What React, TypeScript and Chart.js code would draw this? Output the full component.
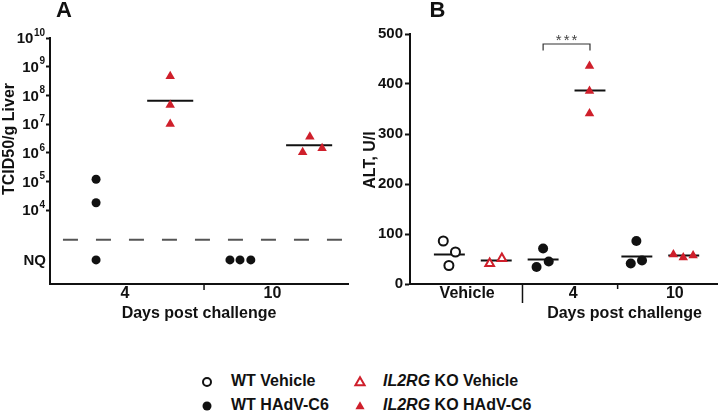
import React, { useEffect, useRef } from 'react';
import { Chart, registerables } from 'chart.js';

Chart.register(...registerables);

const FONT = "'Liberation Sans', Arial, Helvetica, sans-serif";
const RED = '#cf1f2b';
const INK = '#111111';

// ---------- Panel A: log10 TCID50 / g liver ----------
const A_DAY_LABELS = ['4', '', '10'];
const A_DAY_TICKS = [1.4, 2.5, 3.45];
const A_POWERS = [4, 5, 6, 7, 8, 9, 10];
const A_NQ = 2.27; // "not quantifiable" level
const A_LIMIT = 2.97; // dashed quantification limit
const A_WT_X = [1, 1, 1, 2.86, 3.0, 3.15];
const A_WT_Y = [5.08, 4.26, A_NQ, A_NQ, A_NQ, A_NQ];
const A_KO_X = [2.03, 2.03, 2.03, 3.87, 3.97, 4.14];
const A_KO_Y = [8.67, 7.67, 7.0, 6.02, 6.56, 6.16];
const A_MEAN_X = [2.03, 3.96];
const A_MEAN_Y = [7.81, 6.26];

// ---------- Panel B: ALT, U/l ----------
const B_GROUP_LABELS = ['Vehicle', '4', '10'];
const B_GROUP_TICKS = [1.38, 3.64, 5.81];
const B_DIVIDERS = [2.56, 4.59];
const B_WT_VEH_X = [0.87, 1.13, 0.99];
const B_WT_VEH_Y = [86, 64, 37];
const B_KO_VEH_X = [1.86, 2.12];
const B_KO_VEH_Y = [41, 51];
const B_WT_X = [3.0, 2.86, 3.12, 4.99, 4.87, 5.11];
const B_WT_Y = [71, 34, 45, 86, 41, 47];
const B_KO_X = [3.99, 3.99, 3.99, 5.78, 5.99, 6.2];
const B_KO_Y = [436, 386, 341, 59, 53, 57];
const B_MEAN_X = [1, 2, 3, 4, 5, 6];
const B_MEAN_Y = [59, 47, 49, 387, 55, 57];
const B_SIG_FROM = 3;
const B_SIG_TO = 4;
const B_SIG_TOP = 480;
const B_SIG_FOOT = 467;
const B_SIG_LABEL = '***';

const pts = (xs: number[], ys: number[]) => xs.map((x, i) => ({ x, y: ys[i] }));

const meanLines = (xs: number[], ys: number[], half: number) =>
  xs.map((c, i) => ({
    type: 'line' as const,
    data: [
      { x: c - half, y: ys[i] },
      { x: c + half, y: ys[i] },
    ],
    borderColor: INK,
    borderWidth: 2,
    pointRadius: 0,
    showLine: true,
    order: 2,
  }));

const bold = (size: number) => `bold ${size}px ${FONT}`;

function drawText(ctx: CanvasRenderingContext2D, text: string, x: number, y: number, font: string, rotate = false) {
  ctx.save();
  ctx.font = font;
  ctx.fillStyle = INK;
  ctx.textAlign = 'center';
  ctx.textBaseline = 'middle';
  ctx.translate(x, y);
  if (rotate) ctx.rotate(-Math.PI / 2);
  ctx.fillText(text, 0, 0);
  ctx.restore();
}

const panelAPlugin = {
  id: 'panelA',
  beforeDatasetsDraw(chart: any) {
    const { ctx, scales } = chart;
    const { x, y } = scales;
    ctx.save();
    ctx.strokeStyle = '#555555';
    ctx.lineWidth = 2;
    ctx.setLineDash([15, 18]);
    const py = y.getPixelForValue(A_LIMIT);
    ctx.beginPath();
    ctx.moveTo(x.getPixelForValue(0.54), py);
    ctx.lineTo(x.right, py);
    ctx.stroke();
    ctx.restore();
  },
  afterDraw(chart: any) {
    const { ctx, scales } = chart;
    const { x, y } = scales;
    // divider tick on the x axis
    ctx.save();
    ctx.strokeStyle = INK;
    ctx.lineWidth = 1.5;
    const dx = x.getPixelForValue(A_DAY_TICKS[1]);
    ctx.beginPath();
    ctx.moveTo(dx, y.bottom);
    ctx.lineTo(dx, y.bottom + 6);
    ctx.stroke();
    ctx.restore();

    // y tick labels with superscripts
    const right = y.right - 5;
    ctx.save();
    ctx.fillStyle = INK;
    ctx.textBaseline = 'middle';
    A_POWERS.forEach((p) => {
      const py = y.getPixelForValue(p);
      ctx.font = bold(10);
      const sup = String(p);
      const supW = ctx.measureText(sup).width;
      ctx.textAlign = 'left';
      ctx.fillText(sup, right - supW, py - 5);
      ctx.font = bold(15);
      ctx.textAlign = 'right';
      ctx.fillText('10', right - supW - 0.5, py + 1);
    });
    ctx.font = bold(15);
    ctx.textAlign = 'right';
    ctx.fillText('NQ', y.right - 4, y.getPixelForValue(A_NQ) + 1);
    ctx.restore();

    drawText(ctx, 'TCID50/g Liver', 10, 139, bold(16), true);
    drawText(ctx, 'A', 64, 11, bold(22));
    drawText(ctx, 'Days post challenge', (x.left + x.right) / 2, 314, bold(16));
  },
};

const panelBPlugin = {
  id: 'panelB',
  afterDraw(chart: any) {
    const { ctx, scales } = chart;
    const { x, y } = scales;
    ctx.save();
    ctx.strokeStyle = INK;
    ctx.lineWidth = 1.5;
    const lens = [19, 5];
    B_DIVIDERS.forEach((d, i) => {
      const dx = x.getPixelForValue(d);
      ctx.beginPath();
      ctx.moveTo(dx, y.bottom);
      ctx.lineTo(dx, y.bottom + lens[i]);
      ctx.stroke();
    });
    // significance bracket
    const x1 = x.getPixelForValue(B_SIG_FROM);
    const x2 = x.getPixelForValue(B_SIG_TO);
    const yt = y.getPixelForValue(B_SIG_TOP);
    const yf = y.getPixelForValue(B_SIG_FOOT);
    ctx.strokeStyle = '#333333';
    ctx.lineWidth = 1.2;
    ctx.beginPath();
    ctx.moveTo(x1, yf);
    ctx.lineTo(x1, yt);
    ctx.lineTo(x2, yt);
    ctx.lineTo(x2, yf);
    ctx.stroke();
    ctx.fillStyle = '#444444';
    ctx.font = `15px ${FONT}`;
    (ctx as any).letterSpacing = '2px';
    ctx.textAlign = 'center';
    ctx.textBaseline = 'middle';
    ctx.fillText(B_SIG_LABEL, (x1 + x2) / 2 + 1, yt - 3);
    ctx.restore();

    drawText(ctx, 'ALT, U/l', 9, 160, bold(16), true);
    drawText(ctx, 'B', 75.5, 11, bold(22));
    drawText(ctx, 'Days post challenge', 262.5, 314, bold(16));
  },
};

function makeChartA(canvas: HTMLCanvasElement) {
  return new Chart(canvas, {
    type: 'scatter',
    data: {
      datasets: [
        {
          data: pts(A_WT_X, A_WT_Y),
          pointStyle: 'circle',
          pointRadius: 4.5,
          backgroundColor: INK,
          borderColor: INK,
          borderWidth: 0,
          order: 1,
        },
        {
          data: pts(A_KO_X, A_KO_Y),
          pointStyle: 'triangle',
          pointRadius: 5.5,
          backgroundColor: RED,
          borderColor: RED,
          borderWidth: 0,
          order: 1,
        },
        ...meanLines(A_MEAN_X, A_MEAN_Y, 0.32),
      ] as any,
    },
    options: {
      responsive: false,
      maintainAspectRatio: false,
      animation: false,
      events: [],
      layout: { padding: { left: 0, right: 14, top: 38, bottom: 0 } },
      plugins: { legend: { display: false }, tooltip: { enabled: false } },
      scales: {
        x: {
          type: 'linear',
          min: 0.36,
          max: 4.5,
          afterBuildTicks: (s: any) => {
            s.ticks = A_DAY_TICKS.map((v) => ({ value: v }));
          },
          afterFit: (s: any) => {
            s.height = 46;
          },
          grid: { display: false, drawTicks: false },
          border: { display: true, color: INK, width: 2 },
          ticks: {
            callback: (_v: any, i: number) => A_DAY_LABELS[i],
            font: { family: FONT, size: 16, weight: 'bold' },
            color: INK,
            padding: 0,
            maxRotation: 0,
            autoSkip: false,
          },
        },
        y: {
          type: 'linear',
          min: 1.43,
          max: 10,
          afterBuildTicks: (s: any) => {
            s.ticks = [A_NQ, ...A_POWERS].map((v) => ({ value: v }));
          },
          afterFit: (s: any) => {
            s.width = 50;
          },
          grid: {
            display: true,
            drawOnChartArea: false,
            drawTicks: true,
            tickLength: 4,
            tickWidth: 2,
            tickColor: (c: any) => (c.tick && c.tick.value === A_NQ ? 'rgba(0,0,0,0)' : INK),
          },
          border: { display: true, color: INK, width: 2 },
          ticks: { callback: () => '', padding: 0 },
        },
      },
    } as any,
    plugins: [panelAPlugin],
  });
}

function makeChartB(canvas: HTMLCanvasElement) {
  return new Chart(canvas, {
    type: 'scatter',
    data: {
      datasets: [
        {
          data: pts(B_WT_VEH_X, B_WT_VEH_Y),
          pointStyle: 'circle',
          pointRadius: 4.5,
          backgroundColor: '#ffffff',
          borderColor: INK,
          borderWidth: 2,
          order: 1,
        },
        {
          data: pts(B_KO_VEH_X, B_KO_VEH_Y),
          pointStyle: 'triangle',
          pointRadius: 5,
          backgroundColor: '#ffffff',
          borderColor: RED,
          borderWidth: 2,
          order: 1,
        },
        {
          data: pts(B_WT_X, B_WT_Y),
          pointStyle: 'circle',
          pointRadius: 5,
          backgroundColor: INK,
          borderColor: INK,
          borderWidth: 0,
          order: 1,
        },
        {
          data: pts(B_KO_X, B_KO_Y),
          pointStyle: 'triangle',
          pointRadius: 5.5,
          backgroundColor: RED,
          borderColor: RED,
          borderWidth: 0,
          order: 1,
        },
        ...meanLines(B_MEAN_X, B_MEAN_Y, 0.33),
      ] as any,
    },
    options: {
      responsive: false,
      maintainAspectRatio: false,
      animation: false,
      events: [],
      layout: { padding: { left: 0, right: 2, top: 34, bottom: 0 } },
      plugins: { legend: { display: false }, tooltip: { enabled: false } },
      scales: {
        x: {
          type: 'linear',
          min: 0.16,
          max: 6.71,
          afterBuildTicks: (s: any) => {
            s.ticks = B_GROUP_TICKS.map((v) => ({ value: v }));
          },
          afterFit: (s: any) => {
            s.height = 46;
          },
          grid: { display: false, drawTicks: false },
          border: { display: true, color: INK, width: 2 },
          ticks: {
            callback: (_v: any, i: number) => B_GROUP_LABELS[i],
            font: { family: FONT, size: 16, weight: 'bold' },
            color: INK,
            padding: 0,
            maxRotation: 0,
            autoSkip: false,
          },
        },
        y: {
          type: 'linear',
          min: 0,
          max: 500,
          ticks: {
            stepSize: 100,
            font: { family: FONT, size: 15, weight: 'bold' },
            color: INK,
            padding: 2,
          },
          afterFit: (s: any) => {
            s.width = 48;
          },
          grid: {
            display: true,
            drawOnChartArea: false,
            drawTicks: true,
            tickLength: 5,
            tickWidth: 2,
            tickColor: INK,
          },
          border: { display: true, color: INK, width: 2 },
        },
      },
    } as any,
    plugins: [panelBPlugin],
  });
}

function Symbol({ kind }: { kind: 'openCircle' | 'circle' | 'openTri' | 'tri' }) {
  const tri = '7,2.2 11.6,10.2 2.4,10.2';
  return (
    <svg width={14} height={14} style={{ position: 'absolute', left: -7, top: -7 }}>
      {kind === 'openCircle' && <circle cx={7} cy={7} r={4} fill="#fff" stroke={INK} strokeWidth={2} />}
      {kind === 'circle' && <circle cx={7} cy={7} r={4.5} fill={INK} />}
      {kind === 'openTri' && <polygon points={tri} fill="#fff" stroke={RED} strokeWidth={2} />}
      {kind === 'tri' && <polygon points={tri} fill={RED} />}
    </svg>
  );
}

function LegendItem({ x, y, tx, kind, children }: any) {
  return (
    <>
      <div style={{ position: 'absolute', left: x, top: y, width: 0, height: 0 }}>
        <Symbol kind={kind} />
      </div>
      <div
        style={{
          position: 'absolute',
          left: tx,
          top: y - 10,
          height: 20,
          lineHeight: '20px',
          font: `bold 16px ${FONT}`,
          color: INK,
          whiteSpace: 'nowrap',
        }}
      >
        {children}
      </div>
    </>
  );
}

export default function App() {
  const refA = useRef<HTMLCanvasElement>(null);
  const refB = useRef<HTMLCanvasElement>(null);

  useEffect(() => {
    const a = makeChartA(refA.current!);
    const b = makeChartB(refB.current!);
    return () => {
      a.destroy();
      b.destroy();
    };
  }, []);

  return (
    <div
      style={{
        position: 'absolute',
        left: 0,
        top: 0,
        width: 724,
        height: 417,
        background: '#fff',
        overflow: 'hidden',
      }}
    >
      <canvas ref={refA} width={362} height={330} style={{ position: 'absolute', left: 0, top: 0, width: 362, height: 330 }} />
      <canvas ref={refB} width={362} height={330} style={{ position: 'absolute', left: 362, top: 0, width: 362, height: 330 }} />
      <LegendItem x={207} y={382} tx={231} kind="openCircle">WT Vehicle</LegendItem>
      <LegendItem x={207} y={406} tx={231} kind="circle">WT HAdV-C6</LegendItem>
      <LegendItem x={360} y={382} tx={383} kind="openTri">
        <i>IL2RG</i> KO Vehicle
      </LegendItem>
      <LegendItem x={360} y={406} tx={383} kind="tri">
        <i>IL2RG</i> KO HAdV-C6
      </LegendItem>
    </div>
  );
}
